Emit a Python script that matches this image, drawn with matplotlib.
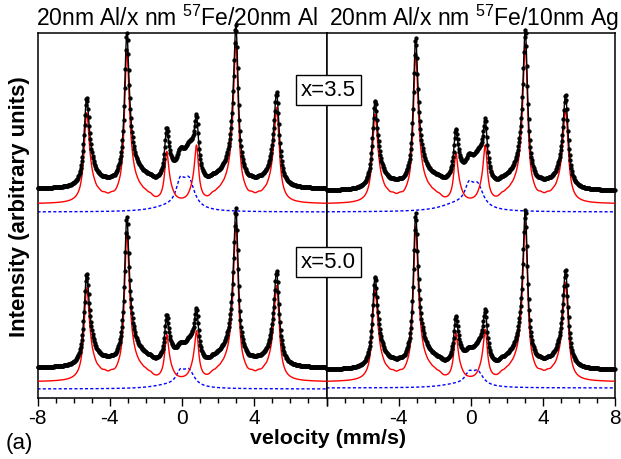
import numpy as np
import matplotlib
matplotlib.use("Agg")
import matplotlib.pyplot as plt
from matplotlib.ticker import MultipleLocator

plt.rcParams['font.family'] = ['Liberation Sans', 'DejaVu Sans']
plt.rcParams['mathtext.fontset'] = 'custom'
plt.rcParams['mathtext.rm'] = 'Liberation Sans'
plt.rcParams['mathtext.it'] = 'Liberation Sans:italic'
plt.rcParams['mathtext.bf'] = 'Liberation Sans:bold'

# ---------------- data ----------------
panel_titles = [r"20nm Al/x nm $^{57}$Fe/20nm Al", r"20nm Al/x nm $^{57}$Fe/10nm Ag"]
thickness_labels = ["x=3.5", "x=5.0"]

# sextet line positions (mm/s) for left / right panel
line_pos_left = [-5.28, -3.06, -0.85, 0.81, 2.99, 5.24]
line_pos_right = [-5.31, -3.06, -0.83, 0.81, 3.03, 5.26]

# sharp sextet line heights (arb. units) : top-left, top-right, bottom-left, bottom-right
sextet_heights_TL = [84, 133, 39, 44, 140, 89]
sextet_heights_TR = [83, 130, 38, 44, 138, 88]
sextet_heights_BL = [87, 129, 35, 38, 137, 89]
sextet_heights_BR = [86, 134, 36, 39, 137, 92]
line_fwhm = [0.34, 0.30, 0.26, 0.26, 0.30, 0.34]

# hyperfine field distribution (relative field, weight) producing the inner skirts
field_scale = [1.0, 0.96, 0.92, 0.87, 0.81, 0.74, 0.66, 0.57]
field_weight = [1.0, 0.12, 0.07, 0.05, 0.045, 0.04, 0.035, 0.03]
skirt_fwhm = 0.38

# blue (non-magnetic) component: positions, heights, widths per spectrum
blue_pos = [-0.80, -0.10, 0.38]
blue_fwhm = [2.2, 0.55, 0.75]
blue_heights_TL = [4, 22, 28]
blue_heights_TR = [7, 18, 22]
blue_heights_BL = [3, 12, 16]
blue_heights_BR = [3, 10, 14]

# vertical offsets (arb. units) of data / sextet / doublet baselines
black_base = {"TL": 209, "TR": 207, "BL": 30, "BR": 28}
red_base = {"TL": 194, "TR": 194, "BL": 16, "BR": 16}
blue_base = {"TL": 186, "TR": 186, "BL": 9, "BR": 10}

# ---------------- helpers ----------------
def lorentz(v, p, fwhm):
    return 1.0 / (1.0 + ((v - p) / (fwhm / 2.0)) ** 2)

def sextet(v, pos, heights):
    pos = np.asarray(pos)
    c = pos.mean()
    out = np.zeros_like(v)
    for s, w in zip(field_scale, field_weight):
        for p, h, fw in zip(pos, heights, line_fwhm):
            width = fw if s == 1.0 else skirt_fwhm
            out += w * h * lorentz(v, c + s * (p - c), width)
    return out

def doublet(v, heights):
    out = np.zeros_like(v)
    for p, h, fw in zip(blue_pos, heights, blue_fwhm):
        out += h * lorentz(v, p, fw)
    return out

v_fine = np.linspace(-8, 8, 1600)
v_chan = np.linspace(-7.985, 7.985, 512)

fig = plt.figure(figsize=(6.21, 4.59), dpi=100)
W, H = 621.0, 459.0
ax_l = fig.add_axes([37.5 / W, (H - 398) / H, 289 / W, 365 / H])
ax_r = fig.add_axes([326.5 / W, (H - 398) / H, 288.5 / W, 365 / H])

spectra = {
    "L": [("TL", sextet_heights_TL, blue_heights_TL), ("BL", sextet_heights_BL, blue_heights_BL)],
    "R": [("TR", sextet_heights_TR, blue_heights_TR), ("BR", sextet_heights_BR, blue_heights_BR)],
}

for ax, side, lpos in [(ax_l, "L", line_pos_left), (ax_r, "R", line_pos_right)]:
    for key, sh, bh in spectra[side]:
        red_f = sextet(v_fine, lpos, sh)
        blue_f = doublet(v_fine, bh)
        black_c = black_base[key] + sextet(v_chan, lpos, sh) + doublet(v_chan, bh)
        ax.plot(v_fine, blue_base[key] + blue_f, color="blue", lw=1.0,
                dashes=(2.2, 1.6), zorder=2)
        ax.plot(v_fine, red_base[key] + red_f, color="red", lw=1.0, zorder=3)
        ax.plot(v_chan, black_c, color="black", lw=1.0, marker="o", ms=2.1,
                mec="black", mfc="black", zorder=4, clip_on=False)
    ax.set_xlim(-8, 8)
    ax.set_ylim(0, 365)
    ax.set_yticks([])
    ax.xaxis.set_major_locator(MultipleLocator(4))
    ax.xaxis.set_minor_locator(MultipleLocator(1))
    ax.tick_params(axis="x", which="major", direction="out", length=6, width=1.0,
                   labelsize=15, pad=2)
    ax.tick_params(axis="x", which="minor", direction="out", length=3.5, width=1.0)
    for sp in ax.spines.values():
        sp.set_linewidth(1.1)

ax_l.set_xticks([-8, -4, 0, 4, 8])
ax_l.set_xticklabels(["-8", "-4", "0", "4", ""])
ax_r.set_xticks([-8, -4, 0, 4, 8])
ax_r.set_xticklabels(["", "-4", "0", "4", "8"])

fig.text(36 / W, 1 - 26 / H, panel_titles[0], fontsize=16.5, ha="left", va="baseline")
fig.text(329 / W, 1 - 26 / H, panel_titles[1], fontsize=16.5, ha="left", va="baseline")

for lab, yc in zip(thickness_labels, [90, 262]):
    fig.text(328.5 / W, 1 - yc / H, lab, fontsize=16, ha="center", va="center",
             zorder=10,
             bbox=dict(boxstyle="square,pad=0.22", fc="white", ec="black", lw=1.0))

fig.text(20 / W, 1 - 207 / H, "Intensity (arbitrary units)", rotation=90,
         fontsize=16, fontweight="bold", ha="center", va="center")
fig.text(328 / W, 1 - 438 / H, "velocity (mm/s)", fontsize=15.4, fontweight="bold",
         ha="center", va="center")
fig.text(6 / W, 1 - 443 / H, "(a)", fontsize=16, ha="left", va="center")

fig.savefig("out.png", dpi=100)
